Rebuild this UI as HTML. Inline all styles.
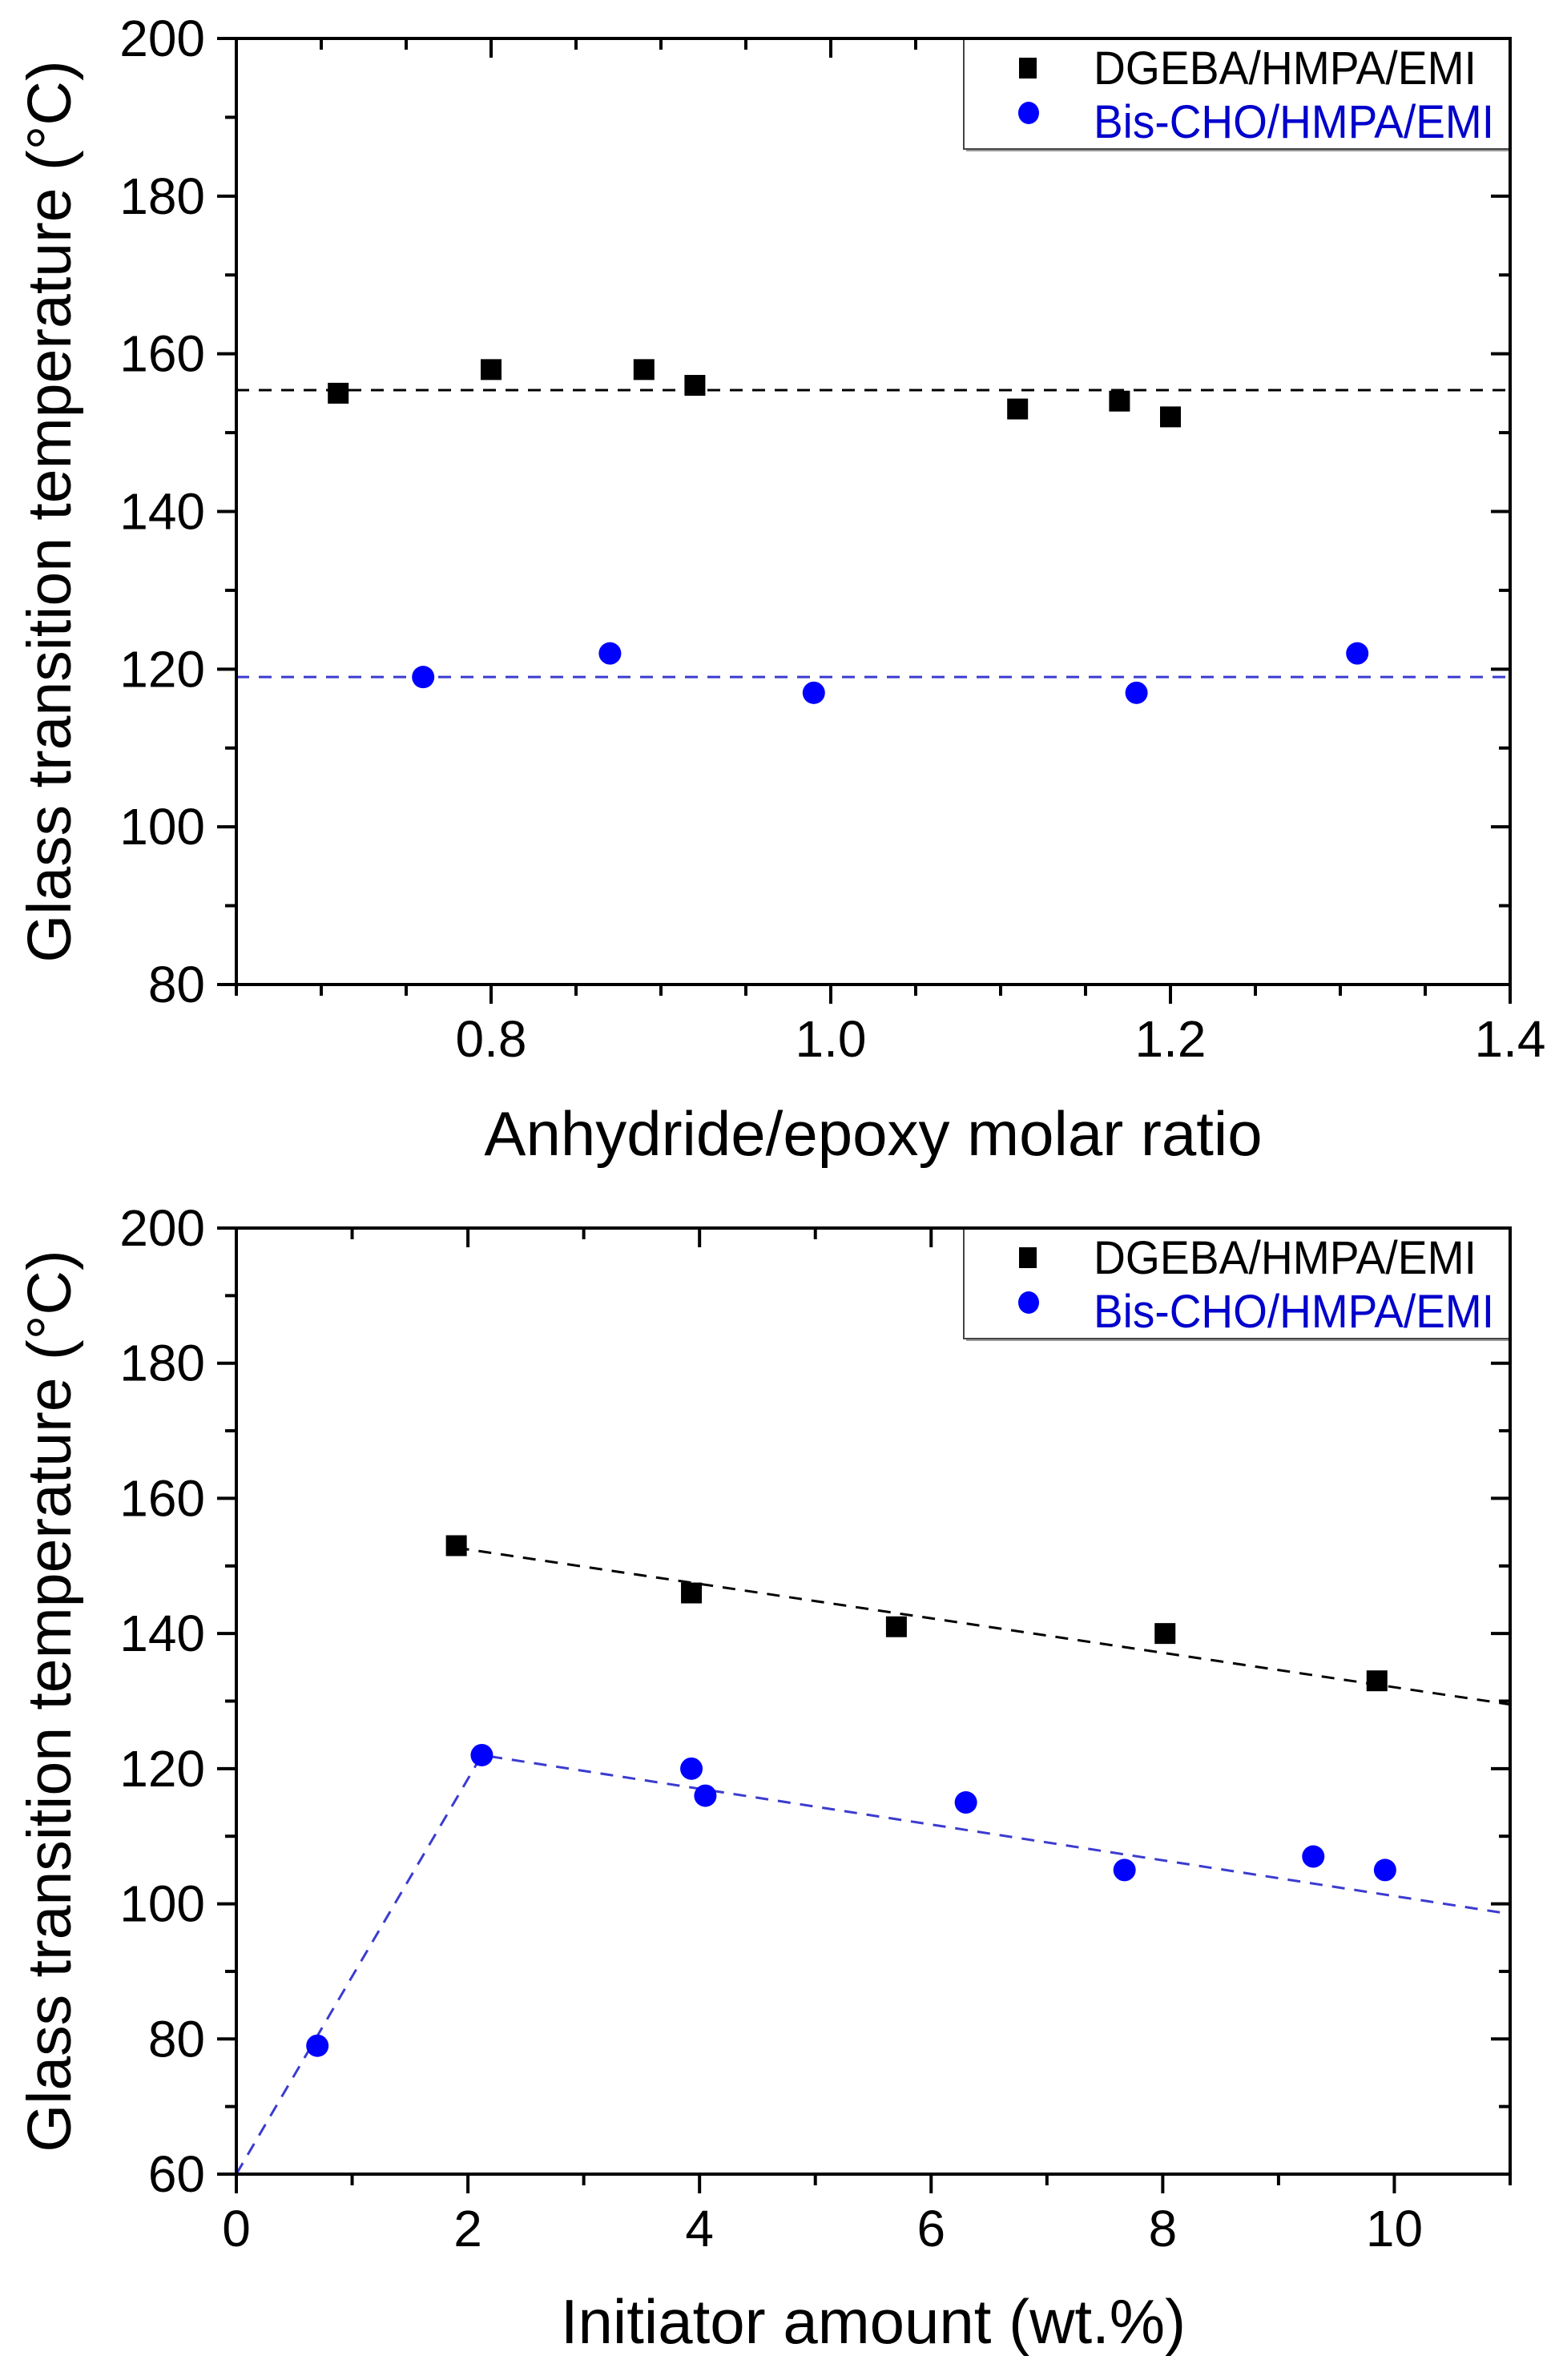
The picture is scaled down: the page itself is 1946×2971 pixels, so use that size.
<!DOCTYPE html>
<html><head><meta charset="utf-8"><style>
html,body{margin:0;padding:0;background:#fff;}
svg{display:block;font-family:"Liberation Sans",Arial,sans-serif;}
</style></head><body>
<svg id="fig" width="1946" height="2971" viewBox="0 0 1946 2971" xmlns="http://www.w3.org/2000/svg">
<rect width="1946" height="2971" fill="#fff"/>
<g id="p1"></g>
<g id="p2"></g>
</svg>
<script>
// ---- chart 1 data ----
const p1BlackX = [0.71, 0.80, 0.89, 0.92, 1.11, 1.17, 1.20];
const p1BlackY = [155, 158, 158, 156, 153, 154, 152];
const p1BlueX = [0.76, 0.87, 0.99, 1.18, 1.31];
const p1BlueY = [119, 122, 117, 117, 122];
const p1BlackFitX = [0.65, 1.4];
const p1BlackFitY = [155.4, 155.4];
const p1BlueFitX = [0.65, 1.4];
const p1BlueFitY = [119, 119];
const p1XTicks = [0.8, 1.0, 1.2, 1.4];
const p1XTickLabels = ["0.8", "1.0", "1.2", "1.4"];
const p1YTicks = [80, 100, 120, 140, 160, 180, 200];
// ---- chart 2 data ----
const p2BlackX = [1.9, 3.93, 5.7, 8.02, 9.85];
const p2BlackY = [153, 146, 141, 140, 133];
const p2BlueX = [0.7, 2.12, 3.93, 4.05, 6.3, 7.67, 9.3, 9.92];
const p2BlueY = [79, 122, 120, 116, 115, 105, 107, 105];
const p2BlackFitX = [1.9, 11];
const p2BlackFitY = [152.7, 129.5];
const p2BlueFitX = [0, 2.12, 11];
const p2BlueFitY = [60, 122, 98.5];
const p2XTicks = [0, 2, 4, 6, 8, 10];
const p2XTickLabels = ["0", "2", "4", "6", "8", "10"];
const p2YTicks = [60, 80, 100, 120, 140, 160, 180, 200];

const NS = "http://www.w3.org/2000/svg";
function mk(tag, attrs, parent){const e=document.createElementNS(NS,tag);for(const k in attrs)e.setAttribute(k,attrs[k]);parent.appendChild(e);return e;}

function drawChart(g, cfg){
  const L=295,R=1885,T=cfg.top,B=cfg.bottom;
  const sx=v=>L+(v-cfg.xmin)/(cfg.xmax-cfg.xmin)*(R-L);
  const sy=v=>B-(v-cfg.ymin)/(cfg.ymax-cfg.ymin)*(B-T);
  for(let v=cfg.xmin; v<=cfg.xmax+1e-9; v+=cfg.xminor){
    const isMajor=cfg.xticks.some(t=>Math.abs(t-v)<1e-6);
    const len=isMajor?24:14, x=sx(v);
    const t1=mk("line",{x1:x,y1:B,x2:x,y2:B+len,stroke:"#000","stroke-width":4},g);
    
    
    const t2=mk("line",{x1:x,y1:T,x2:x,y2:T+len,stroke:"#000","stroke-width":4},g);
    
    
  }
  for(let v=cfg.ymin; v<=cfg.ymax+1e-9; v+=10){
    const isMajor=cfg.yticks.some(t=>Math.abs(t-v)<1e-6);
    const len=isMajor?24:14, y=sy(v);
    const t1=mk("line",{x1:L-len,y1:y,x2:L,y2:y,stroke:"#000","stroke-width":4},g);
    
    
    const t2=mk("line",{x1:R-len,y1:y,x2:R,y2:y,stroke:"#000","stroke-width":4},g);
    
    
  }
  cfg.xticks.forEach((v,i)=>{
    const t=mk("text",{x:sx(v),y:B+90,"font-size":64,"text-anchor":"middle",fill:"#000"},g);
    t.textContent=cfg.xlabels[i];
    
    
  });
  cfg.yticks.forEach(v=>{
    const t=mk("text",{x:256,y:sy(v)+22,"font-size":64,"text-anchor":"end",fill:"#000"},g);
    t.textContent=String(v);
    
    
  });
  const xt=mk("text",{x:cfg.xtitleX,y:cfg.xtitleY,"font-size":78,"text-anchor":"middle",fill:"#000"},g);
  xt.textContent=cfg.xtitle;
  
  
  const cy=(T+B)/2;
  const yt=mk("text",{x:0,y:0,"font-size":77,"text-anchor":"middle",fill:"#000",transform:`translate(88,${cy}) rotate(-90)`},g);
  yt.textContent="Glass transition temperature (°C)";
  
  
  function fit(xs,ys,color,name){
    const pts=xs.map((x,i)=>sx(x)+","+sy(ys[i])).join(" ");
    const p=mk("polyline",{points:pts,fill:"none",stroke:color,"stroke-width":3,"stroke-dasharray":"16 12"},g);
    
    
  }
  fit(cfg.bfx,cfg.bfy,"#000","fit-line-dgeba");
  fit(cfg.ufx,cfg.ufy,"#3b3bd0","fit-line-bischo");
  cfg.bx.forEach((x,i)=>{
    const r=mk("rect",{x:sx(x)-13,y:sy(cfg.by[i])-13,width:26,height:26,fill:"#000"},g);
    
    
  });
  cfg.ux.forEach((x,i)=>{
    const c=mk("circle",{cx:sx(x),cy:sy(cfg.uy[i]),r:14,fill:"#0000ff"},g);
    
    
  });
  // legend
  const lg=mk("g",{},g);
  
  
  const sh=mk("rect",{x:1206,y:T+3,width:R-1206,height:138,fill:"#999"},lg);
  
  
  const lb=mk("rect",{x:1203,y:T,width:R-1203,height:138,fill:"#fff",stroke:"#444","stroke-width":2},lg);
  
  
  const ls=mk("rect",{x:1272,y:T+24,width:22,height:26,fill:"#000"},lg);
  
  
  const t1=mk("text",{x:1365,y:T+57,"font-size":58,fill:"#000",textLength:478,lengthAdjust:"spacingAndGlyphs"},lg);
  t1.textContent="DGEBA/HMPA/EMI";
  
  
  const lc=mk("ellipse",{cx:1284,cy:T+93,rx:13,ry:14,fill:"#0000ff"},lg);
  
  
  const t2=mk("text",{x:1365,y:T+124,"font-size":58,fill:"#0000cc",textLength:500,lengthAdjust:"spacingAndGlyphs"},lg);
  t2.textContent="Bis-CHO/HMPA/EMI";
  
  
  const fr=mk("rect",{x:L,y:T,width:R-L,height:B-T,fill:"none",stroke:"#000","stroke-width":4},g);
  
  
}

drawChart(document.getElementById("p1"),{top:48,bottom:1229,xmin:0.65,xmax:1.4,ymin:80,ymax:200,xminor:0.05,
  xticks:p1XTicks,xlabels:p1XTickLabels,yticks:p1YTicks,xtitle:"Anhydride/epoxy molar ratio",xtitleX:1090,xtitleY:1442,
  bx:p1BlackX,by:p1BlackY,ux:p1BlueX,uy:p1BlueY,bfx:p1BlackFitX,bfy:p1BlackFitY,ufx:p1BlueFitX,ufy:p1BlueFitY});
drawChart(document.getElementById("p2"),{top:1533,bottom:2714,xmin:0,xmax:11,ymin:60,ymax:200,xminor:1,
  xticks:p2XTicks,xlabels:p2XTickLabels,yticks:p2YTicks,xtitle:"Initiator amount (wt.%)",xtitleX:1090,xtitleY:2925,
  bx:p2BlackX,by:p2BlackY,ux:p2BlueX,uy:p2BlueY,bfx:p2BlackFitX,bfy:p2BlackFitY,ufx:p2BlueFitX,ufy:p2BlueFitY});
</script>
</body></html>
